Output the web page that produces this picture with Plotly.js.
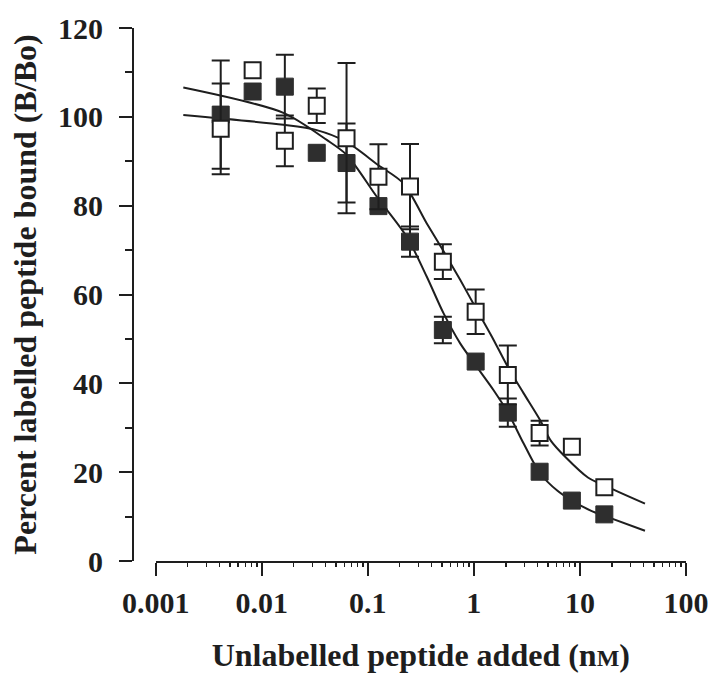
<!DOCTYPE html>
<html>
<head>
<meta charset="utf-8">
<script src="https://cdn.plot.ly/plotly-3.0.1.min.js"></script>
<style>
html, body { margin: 0; padding: 0; background: #ffffff; }
#chart { width: 712px; height: 674px; }
</style>
</head>
<body>
<div id="chart"></div>
<script>
// Peptide concentrations (nM), two-fold dilution series
const conc = [0.0041, 0.0082, 0.0165, 0.033, 0.063, 0.126, 0.25, 0.51, 1.04, 2.09, 4.17, 8.4, 17];

// Filled squares: percent bound and error (null = no visible bar)
const filledB   = [100.5, 105.7, 106.8, 91.9, 89.6, 79.9, 71.9, 52.0, 44.9, 33.4, 20.1, 13.6, 10.5];
const filledErr = [12.2, null, 7.2, null, 8.9, null, 3.4, 3.0, null, 3.2, null, null, null];

// Open squares: percent bound and error
const openB   = [97.3, 110.5, 94.6, 102.5, 95.2, 86.5, 84.3, 67.4, 56.1, 41.9, 28.8, 25.7, 16.6];
const openErr = [10.2, null, 5.7, 3.9, 16.9, 7.3, 9.6, 3.9, 5.0, 6.6, 2.8, null, null];

// Fitted curves
const fitFilledX = [0.00182, 0.016, 0.041, 0.0634, 0.1216, 0.233, 0.36, 0.517, 0.743, 1.067, 1.53, 2.12, 2.94, 4.22, 6.15, 8.55, 12.8, 17.3, 41.1];
const fitFilledY = [106.6, 100.9, 94.8, 91.4, 82.0, 73.0, 64.0, 55.8, 49.0, 43.7, 38.5, 33.2, 26.5, 19.7, 15.8, 13.5, 11.3, 10.1, 6.8];
const fitOpenX = [0.00182, 0.016, 0.033, 0.0624, 0.126, 0.217, 0.36, 0.51, 0.743, 1.03, 1.48, 2.09, 2.94, 4.22, 5.31, 7.38, 11.9, 17.3, 41.1];
const fitOpenY = [100.4, 98.2, 97.0, 94.4, 89.1, 85.0, 76.0, 70.0, 63.3, 57.2, 50.5, 43.7, 37.8, 31.7, 27.1, 23.3, 18.8, 16.9, 12.9];

// Axis ticks
const xTickVals = [0.001, 0.01, 0.1, 1, 10, 100];
const xTickText = ['0.001', '0.01', '0.1', '1', '10', '100'];
const xMinorDigits = [2, 3, 4, 5, 6, 7, 8, 9];
const yTickVals = [0, 20, 40, 60, 80, 100, 120];

const xMinorVals = [];
xTickVals.slice(0, -1).forEach(d => xMinorDigits.forEach(m => xMinorVals.push(d * m)));

const INK = '#1e1e1e';
const FONT = 'Liberation Serif, Times New Roman, serif';
const toErr = a => a.map(v => (v === null ? NaN : v));
const X_RANGE = [-3.0005, 2.0005];
const X_DOMAIN = [0.041, 1];

const traces = [
  { x: fitFilledX, y: fitFilledY, mode: 'lines', type: 'scatter',
    line: { color: INK, width: 2, shape: 'spline', smoothing: 0.8 }, hoverinfo: 'skip' },
  { x: fitOpenX, y: fitOpenY, mode: 'lines', type: 'scatter',
    line: { color: INK, width: 2, shape: 'spline', smoothing: 0.8 }, hoverinfo: 'skip' },
  { x: conc, y: filledB, mode: 'markers', type: 'scatter',
    marker: { symbol: 'square', size: 17, color: '#2e2e2e', line: { color: '#2e2e2e', width: 1 } },
    error_y: { type: 'data', array: toErr(filledErr), visible: true, color: INK, thickness: 2, width: 9 } },
  { x: conc, y: openB, mode: 'markers', type: 'scatter',
    marker: { symbol: 'square', size: 16, color: '#ffffff', line: { color: INK, width: 2 } },
    error_y: { type: 'data', array: toErr(openErr), visible: true, color: INK, thickness: 2, width: 9 } },
  // placeholder trace (no drawable point) that only activates the minor-tick axis
  { x: [xTickVals[0]], y: [null], xaxis: 'x2', yaxis: 'y', mode: 'markers', type: 'scatter',
    marker: { opacity: 0 }, hoverinfo: 'skip' }
];

const layout = {
  width: 712, height: 674,
  margin: { l: 133, r: 26, t: 28, b: 113 },
  paper_bgcolor: '#ffffff', plot_bgcolor: '#ffffff',
  showlegend: false,
  font: { family: FONT, size: 30, color: INK, weight: 'bold' },
  xaxis: {
    type: 'log', range: X_RANGE, domain: X_DOMAIN,
    showline: true, linewidth: 2, linecolor: INK, zeroline: false, showgrid: false,
    tickmode: 'array', tickvals: xTickVals, ticktext: xTickText,
    ticks: 'outside', ticklen: 13, tickwidth: 2, tickcolor: INK,
    ticklabelstandoff: 1,
    tickfont: { family: FONT, size: 30, color: INK, weight: 'bold' },
    title: { text: 'Unlabelled peptide added (n<span style="font-size:24px">M</span>)',
             font: { family: FONT, size: 32, color: INK, weight: 'bold' }, standoff: 26 }
  },
  xaxis2: {
    type: 'log', range: X_RANGE, domain: X_DOMAIN, overlaying: 'x', anchor: 'y', side: 'bottom',
    showline: false, zeroline: false, showgrid: false, showticklabels: false,
    tickmode: 'array', tickvals: xMinorVals,
    ticks: 'outside', ticklen: 5, tickwidth: 1.5, tickcolor: INK
  },
  yaxis: {
    range: [0, 120], anchor: 'free', position: 0,
    showline: true, linewidth: 2, linecolor: INK, zeroline: false, showgrid: false,
    tickmode: 'array', tickvals: yTickVals,
    ticks: 'outside', ticklen: 13, tickwidth: 2, tickcolor: INK,
    ticklabelstandoff: 10,
    tickfont: { family: FONT, size: 30, color: INK, weight: 'bold' },
    minor: { ticks: 'outside', ticklen: 7, tickwidth: 2, tickcolor: INK, dtick: 10, showgrid: false },
    title: { text: 'Percent labelled peptide bound (B/Bo)',
             font: { family: FONT, size: 32, color: INK, weight: 'bold' }, standoff: 11 }
  }
};

Plotly.newPlot('chart', traces, layout, { displayModeBar: false, staticPlot: true });
</script>
</body>
</html>
